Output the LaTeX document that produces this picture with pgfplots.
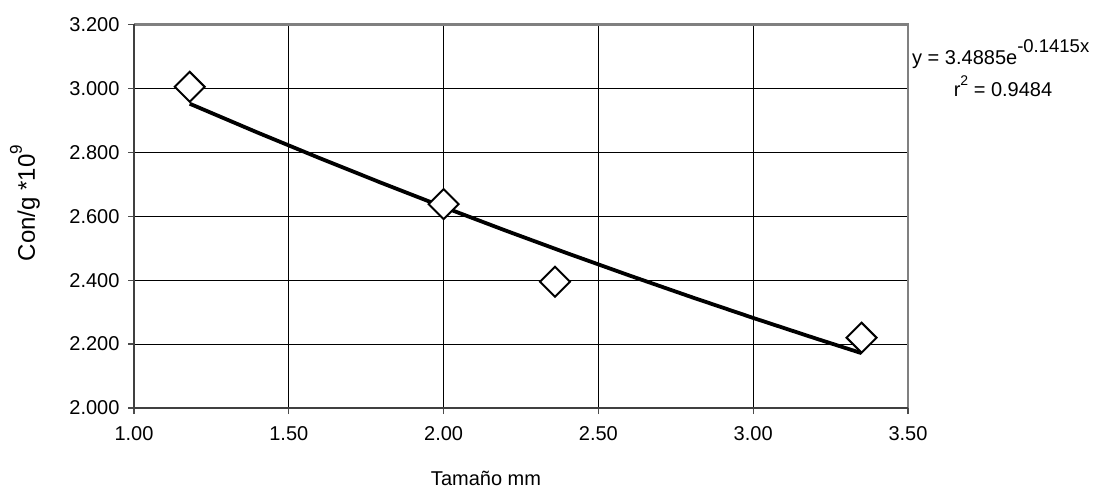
\documentclass[border=0pt]{standalone}
\usepackage{fontspec}
\setmainfont{Liberation Sans}
\usepackage{pgfplots}
\pgfplotsset{compat=1.18}
\newcommand{\fs}[1]{\fontsize{#1bp}{#1bp}\selectfont}
\newcommand{\tl}[1]{\hbox{\fontsize{20bp}{20bp}\selectfont #1}}
\begin{document}
\begin{tikzpicture}
\begin{axis}[
  scale only axis,
  width=774bp, height=383.5bp,
  xmin=1, xmax=3.5, ymin=2, ymax=3.2,
  xtick={1,1.5,2,2.5,3,3.5},
  ytick={2,2.2,2.4,2.6,2.8,3.0,3.2},
  xticklabels={{\tl{1.00}},{\tl{1.50}},{\tl{2.00}},{\tl{2.50}},{\tl{3.00}},{\tl{3.50}}},
  yticklabels={{\tl{2.000}},{\tl{2.200}},{\tl{2.400}},{\tl{2.600}},{\tl{2.800}},{\tl{3.000}},{\tl{3.200}}},
  grid=major,
  major grid style={black, line width=0.8bp},
  axis line style={draw=none},
  tick align=outside,
  major tick length=6bp,
  tick style={black!70, line width=1.2bp},
  xticklabel style={yshift=-9bp},
  yticklabel style={xshift=-5bp},
  xtick pos=bottom, ytick pos=left,
  clip=false,
]
% plot frame
\draw[black!50, line width=2.2bp] (rel axis cs:0,1) -- (rel axis cs:1,1) -- (rel axis cs:1,0);
\draw[black!75, line width=2.2bp] (rel axis cs:0,1) -- (rel axis cs:0,0) -- (rel axis cs:1,0);
% trendline y = 3.4885 exp(-0.1415 x), tabulated
\addplot[black, line width=3.8bp, no marks] coordinates {
 (1.18,2.9521) (1.40,2.8615) (1.60,2.7817) (1.80,2.7041) (2.00,2.6287)
 (2.20,2.5553) (2.40,2.4840) (2.60,2.4147) (2.80,2.3473) (3.00,2.2818)
 (3.20,2.2182) (3.35,2.1716)};
\addplot[only marks, mark=square*, mark size=10.6bp,
  mark options={rotate=45, fill=white, draw=black, line width=2bp}] coordinates {
 (1.18,3.005) (2.00,2.638) (2.36,2.395) (3.35,2.220)};
\end{axis}
\node[font=\fs{20}, anchor=base] at (352bp,-77bp) {Tamaño mm};
\node[font=\fs{24}, anchor=base, rotate=90] at (-99bp,205bp) {Con/g *10\raisebox{0.55em}{\fs{17}9}};
\node[font=\fs{20}, anchor=base west, inner sep=0pt] at (778bp,343bp) {y = 3.4885e\raisebox{0.6em}{\fs{18.5}-0.1415x}};
\node[font=\fs{20}, anchor=base, inner sep=0pt] at (869bp,311bp) {r\raisebox{0.55em}{\fs{14}2} = 0.9484};
\path (-134bp,-88bp) rectangle (970bp,408bp);
\end{tikzpicture}
\end{document}
